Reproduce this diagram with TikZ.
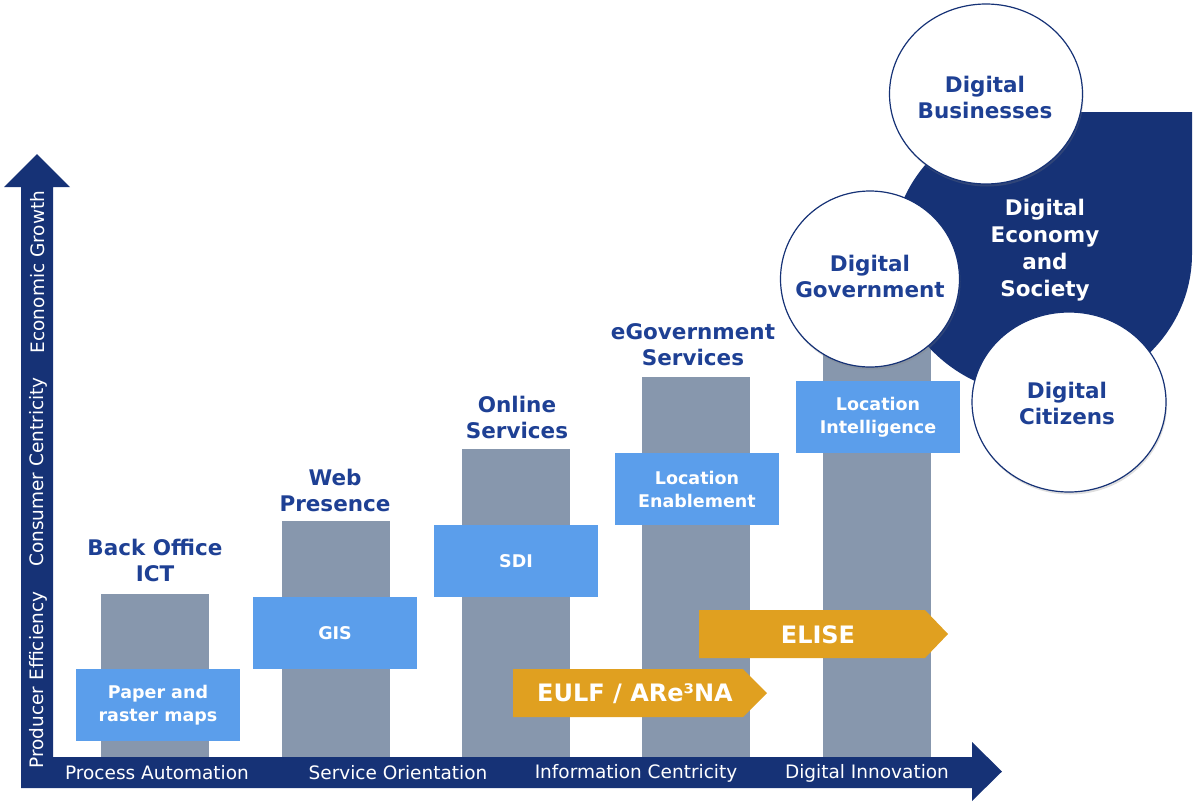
\documentclass[tikz,border=0pt]{standalone}
\usepackage{fontspec}
\setmainfont{DejaVu Sans}
\usetikzlibrary{shapes.geometric,shadows}
\definecolor{navy}{RGB}{22,50,118}
\definecolor{headblue}{RGB}{30,64,148}
\definecolor{bargray}{RGB}{135,151,173}
\definecolor{boxblue}{RGB}{91,158,235}
\definecolor{orng}{RGB}{224,160,32}
\tikzset{
  bar/.style={fill=bargray},
  bluebox/.style={fill=boxblue, minimum width=164pt, minimum height=72pt, inner sep=0pt,
    text=white, font=\bfseries\fontsize{17.5}{23}\selectfont, align=center},
  heading/.style={text=headblue, font=\bfseries\fontsize{21.5}{26}\selectfont, align=center, inner sep=0pt},
  axislabel/.style={text=white, font=\fontsize{18.5}{22}\selectfont, inner sep=0pt},
  circ/.style={ellipse, draw=navy, line width=1.2pt, fill=white, inner sep=0pt,
    drop shadow={opacity=0.25, shadow xshift=1pt, shadow yshift=-2.5pt}},
  circtext/.style={text=headblue, font=\bfseries\fontsize{21.5}{26}\selectfont, align=center, inner sep=0pt},
  arrowtext/.style={text=white, font=\bfseries\fontsize{24}{28}\selectfont, inner sep=0pt},
}
\begin{document}
\begin{tikzpicture}[x=1pt,y=-1pt]
\useasboundingbox (0,0) rectangle (1194,801);
% gray bars
\fill[bar] (101,594) rectangle (209,757);
\fill[bar] (282,521) rectangle (390,757);
\fill[bar] (462,449) rectangle (570,757);
\fill[bar] (642,377) rectangle (750,757);
\fill[bar] (823,300) rectangle (931,757);
% headings
\node[heading] (h1) at (155,560) {Back Office\\ICT};
\node[heading] (h2) at (335,490) {Web\\Presence};
\node[heading] (h3) at (517,417) {Online\\Services};
\node[heading] (h4) at (693,345) {eGovernment\\Services};
% blue boxes
\node[bluebox] (b1) at (158,705) {Paper and\\raster maps};
\node[bluebox] (b2) at (335,633) {GIS};
\node[bluebox] (b3) at (516,561) {SDI};
\node[bluebox] (b4) at (697,489) {Location\\Enablement};
\node[bluebox] (b5) at (878,417) {Location\\Intelligence};
% orange arrows
\fill[orng] (699,610) -- (925,610) -- (948,634) -- (925,658) -- (699,658) -- cycle;
\node[arrowtext] (elise) at (818,635) {ELISE};
\fill[orng] (513,669) -- (743,669) -- (767,693) -- (743,717) -- (513,717) -- cycle;
\node[arrowtext] (eulf) at (635,694) {EULF / ARe³NA};
% axes
\fill[navy] (21,788) -- (21,187) -- (4,187) -- (37,154) -- (70,187) -- (53,187) -- (53,757)
  -- (972,757) -- (972,742) -- (1002,771.5) -- (972,801) -- (972,788) -- cycle;
\node[axislabel] (ax1) at (157,773) {Process Automation};
\node[axislabel] (ax2) at (398,773) {Service Orientation};
\node[axislabel] (ax3) at (636,773) {Information Centricity};
\node[axislabel] (ax4) at (867,773) {Digital Innovation};
\node[axislabel, rotate=90] (ay1) at (38,680) {Producer Efficiency};
\node[axislabel, rotate=90] (ay2) at (38,472) {Consumer Centricity};
\node[axislabel, rotate=90] (ay3) at (38,272) {Economic Growth};
% digital economy shape
\fill[navy] (1192,254) arc[start angle=0, end angle=-270, x radius=150pt, y radius=142pt] -- (1192,112) -- cycle;
\node[text=white, font=\bfseries\fontsize{21.5}{27}\selectfont, align=center, inner sep=0pt] (des) at (1045,250) {Digital\\Economy\\and\\Society};
% circles
\node[circ, minimum width=179pt, minimum height=176pt] (gov) at (870,279) {};
\node[circtext] (govt) at (870,276) {Digital\\Government};
\node[circ, minimum width=193pt, minimum height=180pt] (bus) at (986,94) {};
\node[circtext] (bust) at (985,97) {Digital\\Businesses};
\node[circ, minimum width=194pt, minimum height=180pt] (cit) at (1069,402) {};
\node[circtext] (citt) at (1067,403) {Digital\\Citizens};
\end{tikzpicture}
\end{document}
